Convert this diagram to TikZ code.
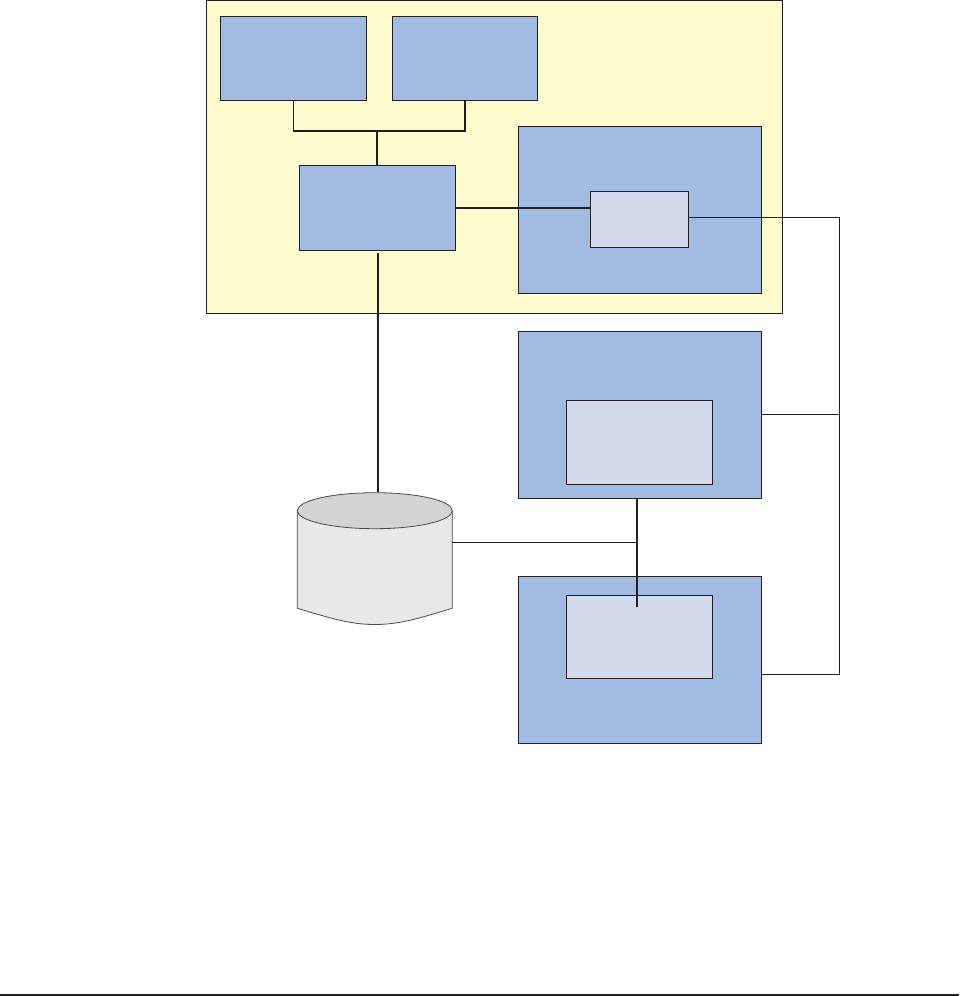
\documentclass[tikz,border=0pt]{standalone}
\definecolor{ylw}{HTML}{FEFBCE}
\definecolor{blu}{HTML}{A2BBE2}
\definecolor{lav}{HTML}{D5DBEE}
\definecolor{ink}{HTML}{231F20}
\definecolor{dbtop}{HTML}{D3D3D3}
\definecolor{dbbody}{HTML}{E8E8E8}
\definecolor{dbline}{HTML}{4A4A4A}
\tikzset{
  box/.style={draw=ink, line width=0.9pt, inner sep=0pt, outer sep=0pt, anchor=north west},
  outerbox/.style={box, fill=ylw},
  bluebox/.style={box, fill=blu},
  lavbox/.style={box, fill=lav},
  thick link/.style={draw=ink, line width=1.4pt},
  thin link/.style={draw=ink, line width=0.75pt},
}
\newcommand{\bx}[6]{\node[#1, minimum width=#4pt-#2pt, minimum height=#5pt-#3pt] (#6) at (#2,#3) {};}
\begin{document}
\begin{tikzpicture}[x=1pt, y=-1pt]
\useasboundingbox (0,0) rectangle (959,996);
% outer yellow container
\node[outerbox, minimum width=576.7pt, minimum height=312.8pt] (Y) at (206,0.5) {};
\node[bluebox, minimum width=146.4pt, minimum height=84pt] (A) at (220.3,16.3) {};
\node[bluebox, minimum width=145.4pt, minimum height=84pt] (B) at (392.3,16.3) {};
\node[bluebox, minimum width=156.4pt, minimum height=85pt] (C) at (299.3,165.3) {};
\node[bluebox, minimum width=243.4pt, minimum height=167pt] (D) at (518.3,126.3) {};
\node[lavbox, minimum width=98.4pt, minimum height=56pt] (E) at (590.3,191.3) {};
% lower boxes
\node[bluebox, minimum width=243.4pt, minimum height=167pt] (F) at (518.3,331.3) {};
\node[lavbox, minimum width=146.4pt, minimum height=84pt] (F1) at (566.3,400.3) {};
\node[bluebox, minimum width=243.4pt, minimum height=167pt] (G) at (518.3,576.3) {};
\node[lavbox, minimum width=146.4pt, minimum height=83pt] (G1) at (566.3,595.3) {};
% database (cylinder) frame node
\node[inner sep=0pt, outer sep=0pt, anchor=north west, minimum width=155pt, minimum height=132pt] (db) at (297.3,492.3) {};
\coordinate (dbTL) at (297.3,510.7);
\coordinate (dbTR) at (452.3,510.7);
\coordinate (dbBL) at (297.3,608.3);
\coordinate (dbBR) at (452.3,608.3);
\fill[dbbody] (dbTL) -- (dbBL) .. controls (330,618) and (350,624.5) .. (374.8,624.5)
  .. controls (400,624.5) and (420,618) .. (dbBR) -- (dbTR) -- cycle;
\draw[dbline, line width=0.8pt] (dbTL) -- (dbBL) .. controls (330,618) and (350,624.5) .. (374.8,624.5)
  .. controls (400,624.5) and (420,618) .. (dbBR) -- (dbTR);
\draw[dbline, fill=dbtop, line width=0.8pt] (374.8,510.7) ellipse [x radius=77.5pt, y radius=18pt];
% connectors
\coordinate (J) at (377,131);
\draw[thick link] (A.south) |- (J) -| (B.south);
\draw[thick link] (J) -- (J |- C.north);
\draw[thick link] (C.east) -- (C.east -| E.west);
\coordinate (Rt) at (839.3,217.3);
\coordinate (Rb) at (839.3,674.3);
\draw[thin link] (E.east |- Rt) -- (Rt) -- (Rb) -- (Rb -| G.east);
\draw[thin link] (F.east) -- (F.east -| Rt);
\coordinate (cd) at (378,253);
\draw[thick link] (cd) -- (cd |- db.north);
\coordinate (gin) at (637,606.7);
\draw[thick link] (gin |- F.south) -- (gin);
\coordinate (dbR) at (452.3,542.3);
\draw[thick link] (dbR) -- (dbR -| gin);
% bottom rule
\coordinate (L0) at (0,995);
\coordinate (L1) at (959,995);
\draw[draw=ink, line width=1.3pt] (L0) -- (L1);
\end{tikzpicture}
\end{document}
